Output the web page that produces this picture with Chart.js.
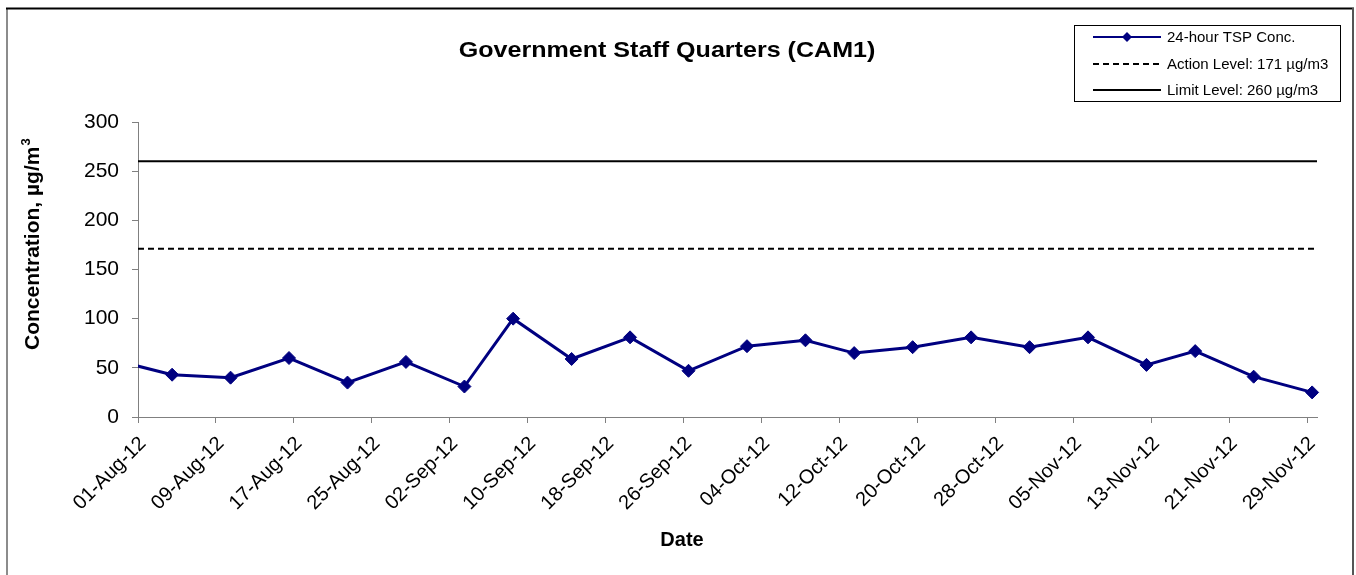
<!DOCTYPE html>
<html>
<head>
<meta charset="utf-8">
<title>Government Staff Quarters (CAM1)</title>
<script src="https://cdn.jsdelivr.net/npm/chart.js@4.4.1/dist/chart.umd.min.js"></script>
<style>
  html, body { margin: 0; padding: 0; background: #fff; }
  #wrap { width: 1356px; height: 575px; }
</style>
</head>
<body>
<div id="wrap"><canvas id="tspChart" width="1356" height="575"></canvas></div>
<script>
// sampling dates and 24-hour TSP results (ug/m3)
const sampleDates = ['29-Jul-12', '04-Aug-12', '10-Aug-12', '16-Aug-12', '22-Aug-12', '28-Aug-12',
    '03-Sep-12', '08-Sep-12', '14-Sep-12', '20-Sep-12', '26-Sep-12', '02-Oct-12', '08-Oct-12',
    '13-Oct-12', '19-Oct-12', '25-Oct-12', '31-Oct-12', '06-Nov-12', '12-Nov-12', '17-Nov-12',
    '23-Nov-12', '29-Nov-12'];
const tspValues = [58, 43, 40, 60, 35, 56, 31, 100, 59, 81, 47, 72, 78, 65, 71, 81, 71, 81, 53, 67, 41, 25];

const tickDates = ['01-Aug-12', '09-Aug-12', '17-Aug-12', '25-Aug-12', '02-Sep-12', '10-Sep-12',
    '18-Sep-12', '26-Sep-12', '04-Oct-12', '12-Oct-12', '20-Oct-12', '28-Oct-12', '05-Nov-12',
    '13-Nov-12', '21-Nov-12', '29-Nov-12'];
const axisStart = '01-Aug-12';
const axisEnd = '30-Nov-12';

const actionLevel = 171;
const limitLevel = 260;

const legendLabels = ['24-hour TSP Conc.', 'Action Level: 171 \u00b5g/m3', 'Limit Level: 260 \u00b5g/m3'];

const MONTHS = {Jan: 0, Feb: 1, Mar: 2, Apr: 3, May: 4, Jun: 5, Jul: 6, Aug: 7, Sep: 8, Oct: 9, Nov: 10, Dec: 11};
function dayNo(s) {
    let parts = s.split('-');
    return Date.UTC(2000 + Number(parts[2]), MONTHS[parts[1]], Number(parts[0])) / 86400000;
}
const day0 = dayNo(axisStart);
function dayOffset(s) { return dayNo(s) - day0; }

// excel date axis puts each point in the middle of its day
let tspPoints = sampleDates.map((d, i) => ({x: dayOffset(d) + 0.5, y: tspValues[i]}));
let xMax = dayOffset(axisEnd);

const FONT = '"Liberation Sans", Arial, Helvetica, sans-serif';

// frame, title, axis titles and the boxed legend
const decorPlugin = {
    id: 'decor',
    afterDraw(chart) {
        const ctx = chart.ctx;
        const ds = chart.data.datasets;
        ctx.save();

        // outer frame
        ctx.lineWidth = 2;
        ctx.strokeStyle = '#8c8c8c';
        ctx.beginPath();
        ctx.moveTo(7, 8); ctx.lineTo(7, 575);
        ctx.stroke();
        ctx.strokeStyle = '#000';
        ctx.beginPath();
        ctx.moveTo(6, 8.5); ctx.lineTo(1354, 8.5);
        ctx.stroke();
        ctx.strokeStyle = '#555';
        ctx.beginPath();
        ctx.moveTo(1353, 8); ctx.lineTo(1353, 575);
        ctx.stroke();

        // title (a little wider than liberation sans)
        ctx.fillStyle = '#000';
        ctx.textAlign = 'center';
        ctx.textBaseline = 'middle';
        ctx.save();
        ctx.translate(667, 51);
        ctx.scale(1.14, 1);
        ctx.font = 'bold 22px ' + FONT;
        ctx.fillText('Government Staff Quarters (CAM1)', 0, 0);
        ctx.restore();

        // x title
        ctx.font = 'bold 20px ' + FONT;
        ctx.fillText('Date', 682, 540);

        // y title with superscript
        ctx.save();
        ctx.translate(33, 350);
        ctx.rotate(-Math.PI / 2);
        ctx.textAlign = 'left';
        ctx.font = 'bold 21px ' + FONT;
        let mainText = 'Concentration, \u00b5g/m';
        ctx.fillText(mainText, 0, 0);
        let w = ctx.measureText(mainText).width;
        ctx.font = 'bold 13px ' + FONT;
        ctx.fillText('3', w + 1, -7);
        ctx.restore();

        // legend box
        ctx.lineWidth = 1;
        ctx.strokeStyle = '#000';
        ctx.strokeRect(1074.5, 25.5, 266, 76);
        ctx.font = '15px ' + FONT;
        ctx.textAlign = 'left';
        const rows = [37, 64, 90];
        rows.forEach((y, i) => {
            let d = ds[i];
            ctx.strokeStyle = d.borderColor;
            ctx.lineWidth = d.borderWidth > 2 ? 2 : d.borderWidth;
            ctx.setLineDash(d.borderDash || []);
            ctx.beginPath();
            ctx.moveTo(1093, y); ctx.lineTo(1161, y);
            ctx.stroke();
            ctx.setLineDash([]);
            if (d.pointRadius > 0) {
                ctx.fillStyle = d.pointBackgroundColor;
                ctx.beginPath();
                ctx.moveTo(1127 - 5, y); ctx.lineTo(1127, y - 5);
                ctx.lineTo(1127 + 5, y); ctx.lineTo(1127, y + 5);
                ctx.closePath();
                ctx.fill();
            }
            ctx.fillStyle = '#000';
            ctx.fillText(legendLabels[i], 1167, y + 1);
        });
        ctx.restore();
    }
};

let dataTsp = {
    label: legendLabels[0],
    data: tspPoints,
    borderColor: '#000080',
    backgroundColor: '#000080',
    borderWidth: 3,
    pointStyle: 'rectRot',
    pointRadius: 6.5,
    pointBorderWidth: 1,
    pointBackgroundColor: '#000080',
    pointBorderColor: '#000080',
    tension: 0,
    clip: {left: 0, top: 10, right: 10, bottom: 10}
};
let dataAction = {
    label: legendLabels[1],
    data: [{x: 0, y: actionLevel}, {x: xMax, y: actionLevel}],
    borderColor: '#000',
    borderWidth: 2,
    borderDash: [6, 4],
    pointRadius: 0
};
let dataLimit = {
    label: legendLabels[2],
    data: [{x: 0, y: limitLevel}, {x: xMax, y: limitLevel}],
    borderColor: '#000',
    borderWidth: 2,
    pointRadius: 0
};

new Chart(document.getElementById('tspChart'), {
    type: 'line',
    data: {datasets: [dataTsp, dataAction, dataLimit]},
    options: {
        responsive: false,
        animation: false,
        devicePixelRatio: 1,
        layout: {padding: {left: 8, top: 122, right: 39, bottom: 0}},
        plugins: {legend: {display: false}, title: {display: false}, tooltip: {enabled: false}},
        scales: {
            x: {
                type: 'linear',
                min: 0,
                max: xMax,
                afterBuildTicks: scale => { scale.ticks = tickDates.map(t => ({value: dayOffset(t)})); },
                afterFit: scale => { scale.height = 158; },
                ticks: {
                    autoSkip: false,
                    minRotation: 45,
                    maxRotation: 45,
                    padding: 9,
                    labelOffset: 5,
                    color: '#000',
                    font: {family: FONT, size: 20},
                    callback: (v, i) => tickDates[i]
                },
                grid: {drawOnChartArea: false, tickLength: 6, color: '#808080'},
                border: {color: '#808080', width: 1}
            },
            y: {
                min: 0,
                max: 300,
                afterFit: scale => { scale.width = 130; },
                ticks: {stepSize: 50, color: '#000', padding: 13, font: {family: FONT, size: 21}},
                grid: {drawOnChartArea: false, tickLength: 6, color: '#808080'},
                border: {color: '#808080', width: 1}
            }
        }
    },
    plugins: [decorPlugin]
});
</script>
</body>
</html>
